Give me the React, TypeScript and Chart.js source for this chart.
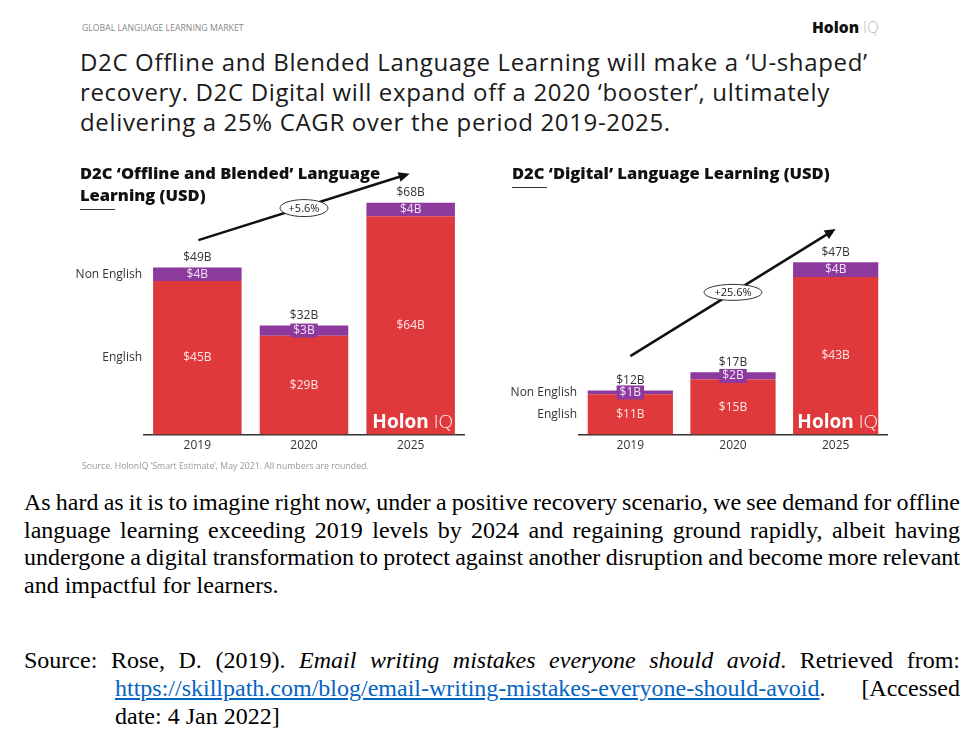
import React, { useEffect, useRef } from 'react';
import { Chart, registerables } from 'chart.js';

Chart.register(...registerables);

// ---------- data ----------
const years = ['2019', '2020', '2025'];
const rowLabels = ['English', 'Non English'];

const offlineEnglish = [45, 29, 64];
const offlineNonEnglish = [4, 3, 4];
const offlineTotals = [49, 32, 68];
const offlineGrowth = '+5.6%';

const digitalEnglish = [11, 15, 43];
const digitalNonEnglish = [1, 2, 4];
const digitalTotals = [12, 17, 47];
const digitalGrowth = '+25.6%';

// arrow annotations in data units: [category index, value]
const offlineArrowFrom = [0.01, 57];
const offlineArrowTo = [1.99, 76.5];
const offlineBadgeAt = [1, 66.4];

const digitalArrowFrom = [0.0, 21.4];
const digitalArrowTo = [2.0, 56.1];
const digitalBadgeAt = [1, 38.8];

// ---------- styles ----------
const FONT = '"Open Sans", Lato, sans-serif';
const RED = '#E0393B';
const PURPLE = '#8C3A9E';

type Cfg = {
  english: number[];
  nonEnglish: number[];
  totals: number[];
  growth: string;
  from: number[];
  to: number[];
  badge: number[];
  rx: number;
  ry: number;
  yMax: number;
  padLeft: number;
  padRight: number;
};

function overlay(cfg: Cfg) {
  return {
    id: 'overlay',
    afterDatasetsDraw(chart: any) {
      const { ctx, chartArea, scales } = chart;
      const xs = scales.x;
      const ys = scales.y;
      const eng = chart.getDatasetMeta(0).data;
      const non = chart.getDatasetMeta(1).data;
      ctx.save();
      ctx.textAlign = 'center';
      ctx.textBaseline = 'middle';
      ctx.font = `12px ${FONT}`;
      eng.forEach((b: any, i: number) => {
        ctx.fillStyle = '#ffe8e8';
        ctx.fillText(`$${cfg.english[i]}B`, b.x, (b.y + b.base) / 2);
      });
      non.forEach((b: any, i: number) => {
        const cy = (b.y + b.base) / 2;
        const txt = `$${cfg.nonEnglish[i]}B`;
        const h = b.base - b.y;
        if (h < 13) {
          const w = ctx.measureText(txt).width + 6;
          ctx.fillStyle = PURPLE;
          ctx.fillRect(b.x - w / 2, cy - 7, w, 14);
        }
        ctx.fillStyle = '#f4e4f8';
        ctx.fillText(txt, b.x, cy);
        ctx.fillStyle = '#333';
        ctx.fillText(`$${cfg.totals[i]}B`, b.x, b.y - 10);
      });
      // row labels
      ctx.textAlign = 'right';
      ctx.fillStyle = '#333';
      ctx.fillText(rowLabels[0], chartArea.left - 2, (eng[0].y + eng[0].base) / 2);
      ctx.fillText(rowLabels[1], chartArea.left - 2, (non[0].y + non[0].base) / 2);

      // arrow
      const x1 = xs.getPixelForValue(cfg.from[0]);
      const y1 = ys.getPixelForValue(cfg.from[1]);
      const x2 = xs.getPixelForValue(cfg.to[0]);
      const y2 = ys.getPixelForValue(cfg.to[1]);
      const ang = Math.atan2(y2 - y1, x2 - x1);
      const head = 11;
      ctx.strokeStyle = '#111';
      ctx.lineWidth = 2.5;
      ctx.beginPath();
      ctx.moveTo(x1, y1);
      ctx.lineTo(x2 - Math.cos(ang) * head * 0.8, y2 - Math.sin(ang) * head * 0.8);
      ctx.stroke();
      ctx.fillStyle = '#111';
      ctx.beginPath();
      ctx.moveTo(x2, y2);
      ctx.lineTo(x2 - head * Math.cos(ang) + 5 * Math.sin(ang), y2 - head * Math.sin(ang) - 5 * Math.cos(ang));
      ctx.lineTo(x2 - head * Math.cos(ang) - 5 * Math.sin(ang), y2 - head * Math.sin(ang) + 5 * Math.cos(ang));
      ctx.closePath();
      ctx.fill();

      // badge
      const bx = xs.getPixelForValue(cfg.badge[0]);
      const by = ys.getPixelForValue(cfg.badge[1]);
      ctx.beginPath();
      ctx.ellipse(bx, by, cfg.rx, cfg.ry, 0, 0, Math.PI * 2);
      ctx.fillStyle = '#fff';
      ctx.fill();
      ctx.lineWidth = 1;
      ctx.strokeStyle = '#333';
      ctx.stroke();
      ctx.textAlign = 'center';
      ctx.fillStyle = '#222';
      ctx.font = `11px ${FONT}`;
      ctx.fillText(cfg.growth, bx, by + 0.5);

      // logo in last bar
      const lb = eng[eng.length - 1];
      ctx.font = `bold 19px ${FONT}`;
      const w1 = ctx.measureText('Holon').width;
      ctx.font = `300 19px ${FONT}`;
      const w2 = ctx.measureText('IQ').width;
      const start = lb.x - (w1 + 5 + w2) / 2 + 2;
      ctx.textAlign = 'left';
      ctx.textBaseline = 'alphabetic';
      ctx.fillStyle = '#fff';
      ctx.font = `bold 19px ${FONT}`;
      ctx.fillText('Holon', start, chartArea.bottom - 7);
      ctx.font = `300 19px ${FONT}`;
      ctx.fillStyle = 'rgba(255,255,255,0.9)';
      ctx.fillText('IQ', start + w1 + 5, chartArea.bottom - 7);
      ctx.restore();
    },
  };
}

function makeConfig(cfg: Cfg): any {
  return {
    type: 'bar',
    data: {
      labels: years,
      datasets: [
        { label: rowLabels[0], data: cfg.english, backgroundColor: RED, borderWidth: 0, barPercentage: 0.83, categoryPercentage: 1 },
        { label: rowLabels[1], data: cfg.nonEnglish, backgroundColor: PURPLE, borderWidth: 0, barPercentage: 0.83, categoryPercentage: 1 },
      ],
    },
    options: {
      responsive: false,
      animation: false,
      layout: { padding: { left: cfg.padLeft, right: cfg.padRight, top: 39, bottom: 8 } },
      plugins: { legend: { display: false }, tooltip: { enabled: false }, title: { display: false } },
      scales: {
        x: {
          stacked: true,
          grid: { display: false, drawTicks: false },
          border: { display: true, color: '#333', width: 1.5 },
          ticks: { color: '#333', font: { family: FONT, size: 12 }, padding: 4 },
        },
        y: { stacked: true, display: false, min: 0, max: cfg.yMax },
      },
    },
    plugins: [overlay(cfg)],
  };
}

const abs = (l: number, t: number, extra: any = {}) => ({ position: 'absolute' as const, left: l, top: t, ...extra });

const TEXT_W = 936;

export default function App() {
  const leftRef = useRef<HTMLCanvasElement>(null);
  const rightRef = useRef<HTMLCanvasElement>(null);

  useEffect(() => {
    const c1 = new Chart(leftRef.current!, makeConfig({
      english: offlineEnglish, nonEnglish: offlineNonEnglish, totals: offlineTotals, growth: offlineGrowth,
      from: offlineArrowFrom, to: offlineArrowTo, badge: offlineBadgeAt, rx: 24, ry: 8.5, yMax: 72, padLeft: 84, padRight: 16,
    }));
    const c2 = new Chart(rightRef.current!, makeConfig({
      english: digitalEnglish, nonEnglish: digitalNonEnglish, totals: digitalTotals, growth: digitalGrowth,
      from: digitalArrowFrom, to: digitalArrowTo, badge: digitalBadgeAt, rx: 29, ry: 8, yMax: 67, padLeft: 89, padRight: 23,
    }));
    return () => { c1.destroy(); c2.destroy(); };
  }, []);

  const serif = { fontFamily: '"Liberation Serif", "Times New Roman", serif', fontSize: 24, color: '#000' };
  const line = (h: number, justify: boolean, extra: any = {}) => ({
    width: TEXT_W,
    height: h,
    lineHeight: `${h}px`,
    whiteSpace: 'nowrap' as const,
    textAlign: (justify ? 'justify' : 'left') as any,
    textAlignLast: (justify ? 'justify' : 'left') as any,
    ...extra,
  });
  const tight = { wordSpacing: -2.2 };

  return (
    <div style={{ position: 'absolute', left: 0, top: 0, width: 972, height: 740, background: '#fff', overflow: 'hidden' }}>
      <div style={abs(82, 22, { fontFamily: FONT, fontSize: 8.7, color: '#888', lineHeight: '12px', whiteSpace: 'nowrap' })}>GLOBAL LANGUAGE LEARNING MARKET</div>
      <div style={abs(812, 16, { fontFamily: FONT, fontSize: 15.5, lineHeight: '22px', whiteSpace: 'nowrap' })}>
        <span style={{ fontWeight: 800, color: '#111' }}>Holon</span>
        <span style={{ fontWeight: 300, color: '#bbb', marginLeft: 4 }}>IQ</span>
      </div>
      <div style={abs(80, 47, { fontFamily: FONT, fontSize: 24, lineHeight: '30px', color: '#1a1a1a', whiteSpace: 'nowrap', letterSpacing: 0.65 })}>
        <div>D2C Offline and Blended Language Learning will make a ‘U-shaped’</div>
        <div>recovery. D2C Digital will expand off a 2020 ‘booster’, ultimately</div>
        <div>delivering a 25% CAGR over the period 2019-2025.</div>
      </div>

      <canvas ref={leftRef} width={420} height={315} style={abs(60, 150)} />
      <canvas ref={rightRef} width={420} height={315} style={abs(490, 150)} />

      <div style={abs(80, 162, { fontFamily: FONT, fontSize: 16.5, fontWeight: 800, lineHeight: '22px', color: '#111', whiteSpace: 'nowrap' })}>
        <div>D2C ‘Offline and Blended’ Language</div>
        <div>Learning (USD)</div>
      </div>
      <div style={abs(80, 209, { width: 35, height: 1, background: '#333' })} />
      <div style={abs(512, 162, { fontFamily: FONT, fontSize: 16.5, fontWeight: 800, lineHeight: '22px', color: '#111', whiteSpace: 'nowrap' })}>
        D2C ‘Digital’ Language Learning (USD)
      </div>
      <div style={abs(512, 187, { width: 35, height: 1, background: '#333' })} />

      <div style={abs(82, 460, { fontFamily: FONT, fontSize: 8.75, color: '#999', lineHeight: '12px', whiteSpace: 'nowrap' })}>
        Source. HolonIQ ‘Smart Estimate’, May 2021. All numbers are rounded.
      </div>

      <div style={abs(24, 489, serif)}>
        <div style={line(27.7, true, tight)}>As hard as it is to imagine right now, under a positive recovery scenario, we see demand for offline</div>
        <div style={line(27.7, true)}>language learning exceeding 2019 levels by 2024 and regaining ground rapidly, albeit having</div>
        <div style={line(27.7, true, tight)}>undergone a digital transformation to protect against another disruption and become more relevant</div>
        <div style={line(27.7, false)}>and impactful for learners.</div>
      </div>

      <div style={abs(24, 646, serif)}>
        <div style={line(28, true)}>Source: Rose, D. (2019). <i>Email writing mistakes everyone should avoid</i>. Retrieved from:</div>
        <div style={line(28, false, { display: 'flex', justifyContent: 'space-between', boxSizing: 'border-box', paddingLeft: 91 })}>
          <span><a href="https://skillpath.com/blog/email-writing-mistakes-everyone-should-avoid" style={{ color: '#0563C1' }}>https://skillpath.com/blog/email-writing-mistakes-everyone-should-avoid</a>.</span>
          <span>[Accessed</span>
        </div>
        <div style={line(28, false, { boxSizing: 'border-box', paddingLeft: 91 })}>date: 4 Jan 2022]</div>
      </div>
    </div>
  );
}
